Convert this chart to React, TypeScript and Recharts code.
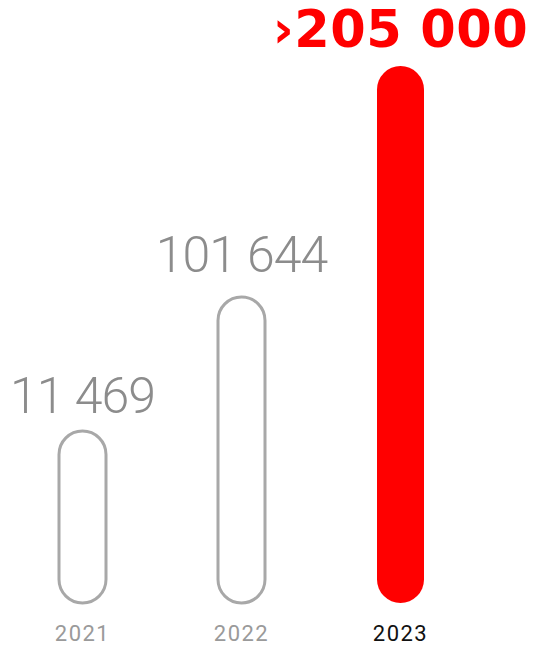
import React from 'react';
import { BarChart, Bar, XAxis, YAxis, Cell, LabelList } from 'recharts';

const years = ['2021', '2022', '2023'];
// visual bar heights as drawn in the picture (not proportional to the figures)
const barHeights = [172, 306, 537];
const valueLabels = ['11 469', '101 644', '›205 000'];

const data = years.map((y, i) => ({ year: y, h: barHeights[i], label: valueLabels[i] }));

const GRAY_STROKE = '#a8a8a8';
const GRAY_TEXT = '#8c8c8c';
const RED = '#ff0000';

const ValueLabel = (props: any) => {
  const { x, y, width, index } = props;
  const isLast = index === years.length - 1;
  if (isLast) {
    return (
      <text
        x={x + width / 2}
        y={y}
        dy={-19}
        textAnchor="middle"
        fill={RED}
        fontFamily="DejaVu Sans"
        fontWeight={700}
        fontSize={51}
        letterSpacing={0.5}
      >
        {valueLabels[index]}
      </text>
    );
  }
  return (
    <text
      x={x + width / 2}
      y={y}
      dy={index === 1 ? -25 : -18}
      textAnchor="middle"
      fill={GRAY_TEXT}
      fontFamily="Roboto"
      fontWeight={300}
      fontSize={50}
      letterSpacing={-1}
    >
      {valueLabels[index]}
    </text>
  );
};

const YearTick = (props: any) => {
  const { x, y, payload, index } = props;
  const isLast = index === years.length - 1;
  return (
    <text
      x={x}
      y={y}
      dy={30}
      textAnchor="middle"
      fill={isLast ? '#111111' : '#9a9a9a'}
      fontFamily="Roboto"
      fontSize={22}
      letterSpacing={1.5}
    >
      {payload.value}
    </text>
  );
};

export default function App() {
  return (
    <div style={{ position: 'absolute', left: 0, top: 0, width: 538, height: 646, background: '#fff' }}>
      <BarChart width={538} height={646} data={data} margin={{ top: 66, right: 58, bottom: 0, left: 3 }}>
        <XAxis dataKey="year" axisLine={false} tickLine={false} height={43} tick={<YearTick />} interval={0} />
        <YAxis hide domain={[0, 537]} />
        <Bar dataKey="h" barSize={47} radius={[23.5, 23.5, 23.5, 23.5]} isAnimationActive={false}>
          {data.map((d, i) => (
            <Cell
              key={d.year}
              fill={i === years.length - 1 ? RED : '#ffffff'}
              stroke={i === years.length - 1 ? 'none' : GRAY_STROKE}
              strokeWidth={i === years.length - 1 ? 0 : 3}
            />
          ))}
          <LabelList dataKey="label" content={<ValueLabel />} />
        </Bar>
      </BarChart>
    </div>
  );
}
